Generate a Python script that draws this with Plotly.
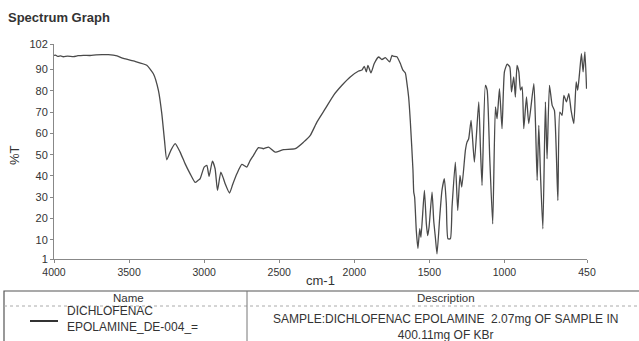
import plotly.graph_objects as go

# Spectrum data (wavenumber cm-1, %T)
wavenumber = [4000, 3990, 3975, 3955, 3938, 3910, 3870, 3840, 3805, 3760, 3720, 3680, 3638, 3580,
              3538, 3460, 3382, 3338, 3305, 3282,
              3264, 3249, 3222, 3193, 3160, 3127, 3093, 3060, 3040, 3027, 3000, 2982, 2967,
              2945, 2927, 2911, 2889, 2871, 2860, 2831, 2810, 2782, 2749, 2716, 2693, 2671,
              2638, 2604, 2571, 2527, 2471, 2393, 2338, 2293, 2249, 2193, 2138, 2082, 2027,
              1971, 1949, 1933, 1920, 1909, 1889, 1867, 1838, 1816, 1793, 1764, 1749, 1742,
              1716, 1693, 1676, 1660, 1649, 1638, 1627, 1609, 1604, 1598, 1587, 1576, 1564,
              1556, 1533, 1520, 1511, 1502, 1482, 1471, 1460, 1449, 1431, 1416, 1400, 1387,
              1376, 1360, 1349, 1327, 1311, 1296, 1284, 1260, 1249, 1238, 1222, 1200, 1171,
              1160, 1149, 1127, 1115, 1098, 1078, 1060, 1049, 1033, 1016, 1000, 982, 964, 953,
              938, 927, 916, 904, 893, 882, 871, 853, 838, 804, 793, 782, 771, 760, 744, 727,
              716, 700, 682, 667, 644, 631, 616, 604, 587, 571, 556, 538, 522, 512, 500, 487,
              476, 464, 453]
transmittance = [96.6, 96.8, 96.2, 96.4, 96.0, 96.3, 96.1, 96.5, 96.7, 96.6, 96.9, 97.0, 97.0, 96.4,
                 95.2, 93.8, 92.0, 88.0, 80.3, 69.3,
                 56.7, 47.6, 52.0, 55.2, 51.2, 45.8, 41.0, 37.0, 38.0, 38.7, 44.2, 45.0, 39.8,
                 47.0, 43.4, 33.2, 41.8, 38.7, 36.4, 32.0, 36.0, 41.0, 45.4, 44.2, 47.3, 49.7,
                 53.3, 52.8, 53.6, 51.2, 52.4, 52.8, 55.9, 59.1, 65.3, 71.6, 77.9, 82.6, 86.5,
                 89.3, 89.8, 91.5, 88.9, 92.0, 88.4, 92.8, 95.9, 94.7, 95.6, 93.6, 96.7, 96.3,
                 96.0, 92.8, 89.7, 88.4, 83.4, 77.1, 66.1, 42.6, 32.4, 30.0, 14.4, 6.0, 15.2,
                 11.2, 33.2, 17.5, 12.0, 15.9, 32.4, 19.1, 11.2, 3.4, 20.6, 33.2, 38.7, 26.9,
                 10.5, 10.5, 25.3, 46.5, 23.8, 40.3, 34.8, 52.0, 55.9, 57.5, 66.1, 46.5, 74.8,
                 53.6, 35.6, 82.6, 80.3, 48.9, 17.5, 72.4, 66.9, 81.0, 62.2, 88.9, 92.5, 91.2, 79.5,
                 86.5, 77.1, 92.0, 88.9, 80.3, 81.8, 62.2, 77.1, 64.6, 83.4, 64.6, 37.9, 63.8, 41.0,
                 15.2, 74.8, 48.1, 82.6, 73.2, 70.8, 28.5, 70.0, 68.5, 77.9, 74.8, 78.7, 70.8,
                 64.6, 84.2, 80.3, 88.1, 97.5, 88.9, 98.3, 81.0]

x_ticks = [4000, 3500, 3000, 2500, 2000, 1500, 1000, 450]
y_ticks = [1, 10, 20, 30, 40, 50, 60, 70, 80, 90, 102]

title_text = "Spectrum Graph"
x_title = "cm-1"
y_title = "%T"
col_headers = ["Name", "Description"]
sample_name = "DICHLOFENAC<br>EPOLAMINE_DE-004_="
sample_desc = "SAMPLE:DICHLOFENAC EPOLAMINE  2.07mg OF SAMPLE IN<br>400.11mg OF KBr"

W, H = 639, 341
L, R, T, B = 54, 587, 44, 259


def px(x):
    return (x - L) / (R - L)


def py(y):
    return (B - y) / (B - T)


FONT = "Liberation Sans, Arial, sans-serif"
TXT = "#333333"

fig = go.Figure()
fig.add_trace(go.Scatter(x=wavenumber, y=transmittance, mode="lines",
                         line=dict(color="#4a4a4a", width=1.3, shape="spline", smoothing=0.5),
                         showlegend=False, hoverinfo="skip"))

fig.update_layout(
    width=W, height=H,
    margin=dict(l=L, r=W - R, t=T, b=H - B),
    paper_bgcolor="white", plot_bgcolor="white",
    font=dict(family=FONT, color=TXT, size=11),
    xaxis=dict(range=[4000, 450], tickvals=x_ticks, ticktext=[str(v) for v in x_ticks],
               showgrid=False, zeroline=False, showline=True, linecolor="#888888",
               linewidth=1, ticks="outside", ticklen=3, tickcolor="#888888",
               tickfont=dict(size=10.5, color=TXT, family=FONT)),
    yaxis=dict(range=[1, 102], tickvals=y_ticks, ticktext=[str(v) for v in y_ticks],
               showgrid=False, zeroline=False, showline=True, linecolor="#888888",
               linewidth=1, ticks="outside", ticklen=3, tickcolor="#888888",
               tickfont=dict(size=11, color=TXT, family=FONT)),
)

ann = []
ann.append(dict(text="<b>" + title_text + "</b>", x=px(6), y=py(18), xanchor="left",
                yanchor="middle", font=dict(size=13, color=TXT)))
ann.append(dict(text=x_title, x=px(320), y=py(280), xanchor="center", yanchor="middle",
                font=dict(size=13, color=TXT)))
ann.append(dict(text=y_title, x=px(14), y=py(155), xanchor="center", yanchor="middle",
                textangle=-90, font=dict(size=13, color=TXT)))
ann.append(dict(text=col_headers[0], x=px(128), y=py(298), xanchor="center", yanchor="middle",
                font=dict(size=11.5, color=TXT)))
ann.append(dict(text=col_headers[1], x=px(446), y=py(298), xanchor="center", yanchor="middle",
                font=dict(size=11.5, color=TXT)))
ann.append(dict(text=sample_name, x=px(65), y=py(319), xanchor="left", yanchor="middle",
                align="left", font=dict(size=12, color=TXT)))
ann.append(dict(text=sample_desc, x=px(445), y=py(327), xanchor="center", yanchor="middle",
                align="center", font=dict(size=12, color=TXT)))
for a in ann:
    a.update(xref="paper", yref="paper", showarrow=False)
fig.update_layout(annotations=ann)

shapes = [
    dict(type="rect", x0=px(4), x1=px(650), y0=py(291), y1=py(350),
         line=dict(color="#555555", width=1.2)),
    dict(type="line", x0=px(4), x1=px(650), y0=py(306), y1=py(306),
         line=dict(color="#aaaaaa", width=1, dash="dot")),
    dict(type="line", x0=px(247), x1=px(247), y0=py(291), y1=py(350),
         line=dict(color="#777777", width=1)),
    dict(type="line", x0=px(30), x1=px(58), y0=py(321), y1=py(321),
         line=dict(color="#333333", width=2)),
]
for s in shapes:
    s.update(xref="paper", yref="paper")
fig.update_layout(shapes=shapes)

fig.write_html("out.html")
